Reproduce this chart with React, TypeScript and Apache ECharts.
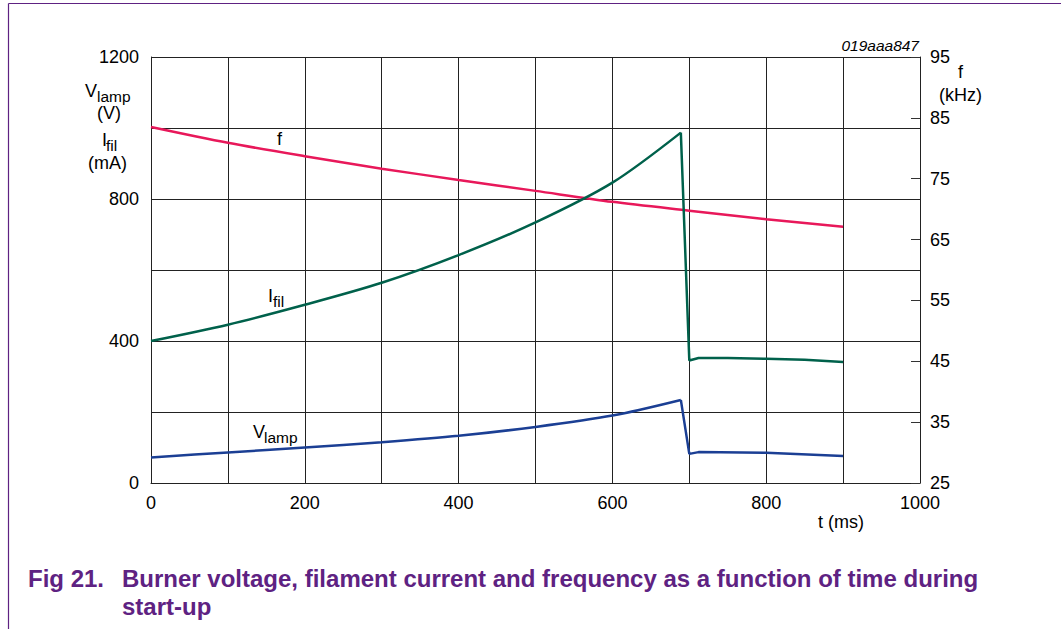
import React, { useEffect, useRef } from "react";
import * as echarts from "echarts";

// frequency f (kHz) vs time (ms)
const tF = [0, 100, 200, 300, 400, 500, 600, 700, 800, 900];
const fKHz = [83.5, 80.9, 78.7, 76.65, 74.8, 73.0, 71.2, 69.75, 68.35, 67.1];

// filament current Ifil (mA): rise, then drop after ignition
const tIfilRise = [0, 100, 200, 300, 400, 500, 600, 689];
const ifilRise = [400, 446, 502, 564, 642, 734, 846, 987];
const tIfilAfter = [689, 700, 712, 750, 800, 850, 900];
const ifilAfter = [987, 345, 352, 352, 350, 347, 341];

// lamp voltage Vlamp (V)
const tVlampRise = [0, 100, 200, 300, 400, 500, 600, 689];
const vlampRise = [72, 86, 100, 115, 133, 158, 190, 234];
const tVlampAfter = [689, 700, 712, 800, 900];
const vlampAfter = [234, 82, 87, 85, 76];

const xTickLabels = [0, 200, 400, 600, 800, 1000];
const leftTickLabels = [0, 400, 800, 1200];

const FONT = '"Liberation Sans", Arial, sans-serif';
const PURPLE = "#5e2282";
const RED = "#e8185a";
const GREEN = "#00614b";
const BLUE = "#1b3f94";

function pairs(xs: number[], ys: number[]) {
  return xs.map((x, i) => [x, ys[i]]);
}

function txt(text: string, x: number, y: number, size: number, extra: any = {}) {
  return {
    type: "text",
    x,
    y,
    silent: true,
    style: {
      text,
      fill: "#000",
      fontSize: size,
      fontFamily: FONT,
      textAlign: "left",
      textVerticalAlign: "middle",
      ...extra,
    },
  };
}

function line(name: string, data: number[][], color: string, yAxisIndex: number, smooth: number | boolean) {
  return {
    name,
    type: "line",
    yAxisIndex,
    data,
    smooth,
    symbol: "none",
    lineStyle: { color, width: 2.5 },
  };
}

export default function App() {
  const ref = useRef<HTMLDivElement>(null);
  useEffect(() => {
    document.body.style.margin = "0";
    const chart = echarts.init(ref.current!, null, { renderer: "svg" });
    const gridColor = "#222";
    chart.setOption({
      animation: false,
      backgroundColor: "#fff",
      grid: { left: 151, right: 141, top: 57, bottom: 146 },
      xAxis: {
        type: "value",
        min: 0,
        max: 1000,
        interval: 100,
        axisLine: { show: true, lineStyle: { color: gridColor, width: 1 } },
        axisTick: { show: false },
        splitLine: { show: true, lineStyle: { color: gridColor, width: 1 } },
        axisLabel: {
          margin: 11,
          color: "#000",
          fontSize: 18,
          fontFamily: FONT,
          formatter: (v: number) => (xTickLabels.includes(v) ? String(v) : ""),
        },
      },
      yAxis: [
        {
          type: "value",
          min: 0,
          max: 1200,
          interval: 200,
          position: "left",
          axisLine: { show: true, lineStyle: { color: gridColor, width: 1 } },
          axisTick: { show: false },
          splitLine: { show: true, lineStyle: { color: gridColor, width: 1 } },
          axisLabel: {
            margin: 12,
            color: "#000",
            fontSize: 18,
            fontFamily: FONT,
            formatter: (v: number) => (leftTickLabels.includes(v) ? String(v) : ""),
          },
        },
        {
          type: "value",
          min: 25,
          max: 95,
          interval: 10,
          position: "right",
          axisLine: { show: true, lineStyle: { color: gridColor, width: 1 } },
          axisTick: { show: true, inside: true, length: 9, lineStyle: { color: "#333" } },
          splitLine: { show: false },
          axisLabel: {
            margin: 10,
            color: "#000",
            fontSize: 18,
            fontFamily: FONT,
          },
        },
      ],
      series: [
        line("f", pairs(tF, fKHz), RED, 1, 0.3),
        line("Ifil", pairs(tIfilRise, ifilRise), GREEN, 0, 0.3),
        line("Ifil after ignition", pairs(tIfilAfter, ifilAfter), GREEN, 0, false),
        line("Vlamp", pairs(tVlampRise, vlampRise), BLUE, 0, 0.3),
        line("Vlamp after ignition", pairs(tVlampAfter, vlampAfter), BLUE, 0, false),
      ],
      graphic: [
        { type: "line", silent: true, shape: { x1: 8.5, y1: 3.5, x2: 8.5, y2: 629 }, style: { stroke: PURPLE, lineWidth: 1.2 } },
        { type: "line", silent: true, shape: { x1: 8.5, y1: 3.5, x2: 1061, y2: 3.5 }, style: { stroke: PURPLE, lineWidth: 1.2 } },
        // left axis title
        txt("V", 85, 91, 18),
        txt("lamp", 97, 96, 15.5),
        txt("(V)", 97, 113, 18),
        txt("I", 102, 140, 18),
        txt("fil", 106, 145, 15.5),
        txt("(mA)", 88, 163, 18),
        // right axis title
        txt("f", 958, 72, 18),
        txt("(kHz)", 939, 95, 18),
        // x axis title
        txt("t (ms)", 818, 522, 18),
        // figure id
        txt("019aaa847", 919, 45, 15.5, { textAlign: "right", fontStyle: "italic" }),
        // series labels
        txt("f", 277, 139, 18),
        txt("I", 268, 296, 18),
        txt("fil", 273, 301, 15.5),
        txt("V", 253, 432, 18),
        txt("lamp", 264, 437, 15.5),
        // caption
        txt("Fig 21.", 28, 578, 24, { fill: PURPLE, fontWeight: "bold" }),
        txt("Burner voltage, filament current and frequency as a function of time during", 122, 578, 24, { fill: PURPLE, fontWeight: "bold" }),
        txt("start-up", 122, 606, 24, { fill: PURPLE, fontWeight: "bold" }),
      ],
    });
    return () => chart.dispose();
  }, []);
  return <div ref={ref} style={{ position: "absolute", left: 0, top: 0, width: 1061, height: 629 }} />;
}
